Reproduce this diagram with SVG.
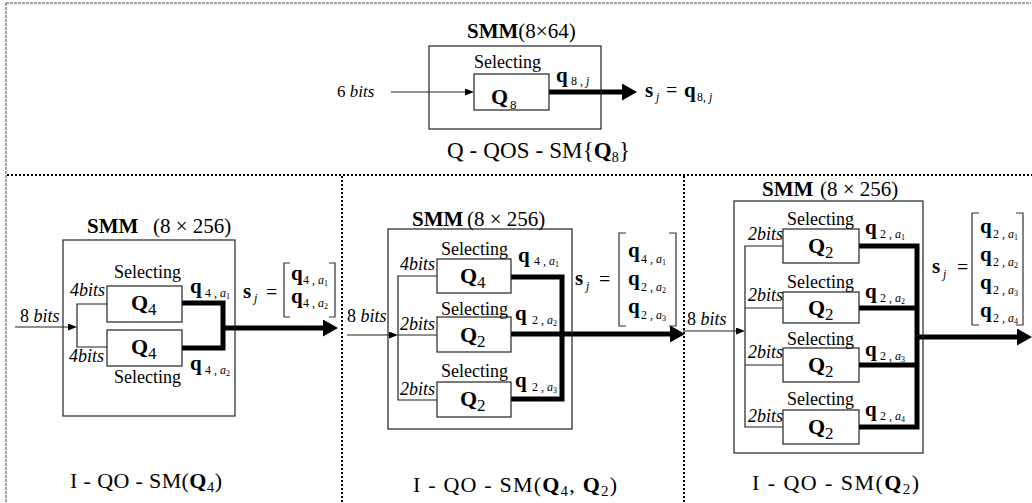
<svg xmlns="http://www.w3.org/2000/svg" width="1032" height="503" viewBox="0 0 1032 503">
<style>
text{font-family:'Liberation Serif',serif !important}
.box{fill:#fff;stroke:#222;stroke-width:1.2}
.outer{fill:none;stroke:#222;stroke-width:1.2}
.thin{fill:none;stroke:#222;stroke-width:1.2}
.thick{fill:none;stroke:#000;stroke-width:5;stroke-linejoin:miter}
.dot{fill:none;stroke:#000;stroke-width:2;stroke-dasharray:2 2}
.frame{fill:none;stroke:#444;stroke-width:1;stroke-dasharray:3 1}
.br{fill:none;stroke:#333;stroke-width:1.2}
</style>
<defs>
<marker id="big" viewBox="0 0 15 17" refX="0" refY="8.5" markerWidth="15" markerHeight="17" markerUnits="userSpaceOnUse" orient="auto"><path d="M0,0 L15,8.5 L0,17 z" fill="#000"/></marker>
<marker id="small" viewBox="0 0 9 7" refX="0" refY="3.5" markerWidth="9" markerHeight="7" markerUnits="userSpaceOnUse" orient="auto"><path d="M0,0 L9,3.5 L0,7 z" fill="#000"/></marker>
</defs>
<rect width="1032" height="503" fill="#fff"/>

<g id="frame">
<path class="frame" d="M6,3 H1031 M6,3 V503"/>
<path class="dot" d="M7,175 H1032 M342,176 V503 M684,176 V503"/>
</g>

<g id="connectors">
<path class="thin" d="M391,92 H465" marker-end="url(#small)"/>
<path class="thick" d="M549,92 H622" marker-end="url(#big)"/>
<path class="thin" d="M15,327 H68" marker-end="url(#small)"/>
<path class="thin" d="M107,304 H77 V347 H107"/>
<path class="thick" d="M182,303 H223 V348 H182"/>
<path class="thick" d="M223,328 H323" marker-end="url(#big)"/>
<path class="thin" d="M347,335 H389" marker-end="url(#small)"/>
<path class="thin" d="M437,276 H398 V400 H437 M398,335 H437"/>
<path class="thick" d="M511,277 H562 V399 H511"/>
<path class="thick" d="M511,334 H670" marker-end="url(#big)"/>
<path class="thin" d="M683,331 H736" marker-end="url(#small)"/>
<path class="thin" d="M783,246 H745 V427 H783 M745,308 H783 M745,365 H783"/>
<path class="thick" d="M859,246 H917 V427 H859 M859,308 H917 M859,365 H917"/>
<path class="thick" d="M917,337 H1017" marker-end="url(#big)"/>
</g>

<g id="smm-top">
<rect class="outer" x="429" y="46" width="172" height="83"/>
<text style="font-family:'Liberation Serif',serif" font-size="21" x="467" y="38"><tspan font-weight="bold">SMM</tspan>(8×64)</text>
<text style="font-family:'Liberation Serif',serif" font-size="17" x="337" y="97">6 <tspan font-style="italic">bits</tspan></text>
<text style="font-family:'Liberation Serif',serif" font-size="23" x="447" y="158" textLength="183">Q - QOS - SM{<tspan font-weight="bold">Q</tspan><tspan font-size="14" dy="4">8</tspan><tspan dy="-4">}</tspan></text>
</g>
<g id="q8">
<rect class="box" x="474" y="74" width="75" height="36"/>
<text style="font-family:'Liberation Serif',serif" font-size="18" x="474" y="68">Selecting</text>
<text style="font-family:'Liberation Serif',serif" font-size="22" font-weight="bold" x="491" y="104">Q</text>
<text style="font-family:'Liberation Serif',serif" font-size="13" x="510" y="109">8</text>
<text style="font-family:'Liberation Serif',serif" font-size="21" font-weight="bold" x="556" y="82">q</text>
<text style="font-family:'Liberation Serif',serif" font-size="12" x="571" y="85">8 , <tspan font-style="italic">j</tspan></text>
<text style="font-family:'Liberation Serif',serif" font-size="21" font-weight="bold" x="645" y="97">s</text>
<text style="font-family:'Liberation Serif',serif" font-size="12" font-style="italic" x="656" y="101">j</text>
<text style="font-family:'Liberation Serif',serif" font-size="20" x="666" y="97">=</text>
<text style="font-family:'Liberation Serif',serif" font-size="21" font-weight="bold" x="684" y="97">q</text>
<text style="font-family:'Liberation Serif',serif" font-size="12" x="697" y="101">8, <tspan font-style="italic">j</tspan></text>
</g>

<g id="smm-1">
<rect class="outer" x="63" y="240" width="172" height="176"/>
<text style="font-family:'Liberation Serif',serif" font-size="21" font-weight="bold" x="87" y="233">SMM</text>
<text style="font-family:'Liberation Serif',serif" font-size="21" x="153" y="233">(8 × 256)</text>
<text style="font-family:'Liberation Serif',serif" font-size="18" x="20" y="322">8 <tspan font-style="italic">bits</tspan></text>
<text style="font-family:'Liberation Serif',serif" font-size="22" x="70" y="488" textLength="152">I - QO - SM(<tspan font-weight="bold">Q</tspan><tspan font-size="15" dy="4">4</tspan><tspan dy="-4">)</tspan></text>
<text style="font-family:'Liberation Serif',serif" font-size="21" font-weight="bold" x="243" y="298">s</text>
<text style="font-family:'Liberation Serif',serif" font-size="12" font-style="italic" x="254" y="302">j</text>
<text style="font-family:'Liberation Serif',serif" font-size="20" x="266" y="299">=</text>
<path class="br" d="M290,263 H284 V317 H290 M329,263 H335 V317 H329"/>
<text style="font-family:'Liberation Serif',serif" font-size="21" font-weight="bold" x="291" y="280">q</text>
<text style="font-family:'Liberation Serif',serif" font-size="12" x="303" y="284">4 , <tspan font-style="italic">a</tspan><tspan font-size="8" dy="2">1</tspan></text>
<text style="font-family:'Liberation Serif',serif" font-size="21" font-weight="bold" x="291" y="303">q</text>
<text style="font-family:'Liberation Serif',serif" font-size="12" x="303" y="307">4 , <tspan font-style="italic">a</tspan><tspan font-size="8" dy="2">2</tspan></text>
</g>
<g id="q4-1a">
<rect class="box" x="107" y="286" width="75" height="36"/>
<text style="font-family:'Liberation Serif',serif" font-size="18" x="114" y="278">Selecting</text>
<text style="font-family:'Liberation Serif',serif" font-size="18" font-style="italic" x="70" y="296">4bits</text>
<text style="font-family:'Liberation Serif',serif" font-size="22" font-weight="bold" x="131" y="310">Q</text>
<text style="font-family:'Liberation Serif',serif" font-size="17" x="148" y="315">4</text>
<text style="font-family:'Liberation Serif',serif" font-size="21" font-weight="bold" x="190" y="293">q</text>
<text style="font-family:'Liberation Serif',serif" font-size="12" x="205" y="297">4 , <tspan font-style="italic">a</tspan><tspan font-size="8" dy="2">1</tspan></text>
</g>
<g id="q4-1b">
<rect class="box" x="107" y="330" width="75" height="36"/>
<text style="font-family:'Liberation Serif',serif" font-size="18" x="114" y="383">Selecting</text>
<text style="font-family:'Liberation Serif',serif" font-size="18" font-style="italic" x="69" y="362">4bits</text>
<text style="font-family:'Liberation Serif',serif" font-size="22" font-weight="bold" x="131" y="354">Q</text>
<text style="font-family:'Liberation Serif',serif" font-size="17" x="148" y="359">4</text>
<text style="font-family:'Liberation Serif',serif" font-size="21" font-weight="bold" x="190" y="370">q</text>
<text style="font-family:'Liberation Serif',serif" font-size="12" x="205" y="374">4 , <tspan font-style="italic">a</tspan><tspan font-size="8" dy="2">2</tspan></text>
</g>

<g id="smm-2">
<rect class="outer" x="388" y="229" width="184" height="200"/>
<text style="font-family:'Liberation Serif',serif" font-size="21" font-weight="bold" x="412" y="226">SMM</text>
<text style="font-family:'Liberation Serif',serif" font-size="21" x="467" y="226">(8 × 256)</text>
<text style="font-family:'Liberation Serif',serif" font-size="18" x="347" y="322">8 <tspan font-style="italic">bits</tspan></text>
<text style="font-family:'Liberation Serif',serif" font-size="22" x="413" y="492" textLength="204">I - QO - SM(<tspan font-weight="bold">Q</tspan><tspan font-size="15" dy="4">4</tspan><tspan dy="-4">, </tspan><tspan font-weight="bold">Q</tspan><tspan font-size="15" dy="4">2</tspan><tspan dy="-4">)</tspan></text>
<text style="font-family:'Liberation Serif',serif" font-size="21" font-weight="bold" x="575" y="285">s</text>
<text style="font-family:'Liberation Serif',serif" font-size="12" font-style="italic" x="586" y="290">j</text>
<text style="font-family:'Liberation Serif',serif" font-size="20" x="599" y="286">=</text>
<path class="br" d="M626,233 H619 V326 H626 M669,233 H676 V326 H669"/>
<text style="font-family:'Liberation Serif',serif" font-size="21" font-weight="bold" x="628" y="257">q</text>
<text style="font-family:'Liberation Serif',serif" font-size="12" x="641" y="263">4 , <tspan font-style="italic">a</tspan><tspan font-size="8" dy="2">1</tspan></text>
<text style="font-family:'Liberation Serif',serif" font-size="21" font-weight="bold" x="628" y="285">q</text>
<text style="font-family:'Liberation Serif',serif" font-size="12" x="641" y="291">2 , <tspan font-style="italic">a</tspan><tspan font-size="8" dy="2">2</tspan></text>
<text style="font-family:'Liberation Serif',serif" font-size="21" font-weight="bold" x="628" y="313">q</text>
<text style="font-family:'Liberation Serif',serif" font-size="12" x="641" y="319">2 , <tspan font-style="italic">a</tspan><tspan font-size="8" dy="2">3</tspan></text>
</g>
<g id="q4-2">
<rect class="box" x="437" y="259" width="74" height="34"/>
<text style="font-family:'Liberation Serif',serif" font-size="18" x="441" y="255">Selecting</text>
<text style="font-family:'Liberation Serif',serif" font-size="18" font-style="italic" x="400" y="270">4bits</text>
<text style="font-family:'Liberation Serif',serif" font-size="22" font-weight="bold" x="460" y="283">Q</text>
<text style="font-family:'Liberation Serif',serif" font-size="17" x="477" y="288">4</text>
<text style="font-family:'Liberation Serif',serif" font-size="21" font-weight="bold" x="518" y="262">q</text>
<text style="font-family:'Liberation Serif',serif" font-size="12" x="534" y="265">4 , <tspan font-style="italic">a</tspan><tspan font-size="8" dy="2">1</tspan></text>
</g>
<g id="q2-2a">
<rect class="box" x="437" y="317" width="74" height="35"/>
<text style="font-family:'Liberation Serif',serif" font-size="18" x="441" y="315">Selecting</text>
<text style="font-family:'Liberation Serif',serif" font-size="18" font-style="italic" x="400" y="330">2bits</text>
<text style="font-family:'Liberation Serif',serif" font-size="22" font-weight="bold" x="460" y="342">Q</text>
<text style="font-family:'Liberation Serif',serif" font-size="17" x="477" y="347">2</text>
<text style="font-family:'Liberation Serif',serif" font-size="21" font-weight="bold" x="515" y="320">q</text>
<text style="font-family:'Liberation Serif',serif" font-size="12" x="532" y="324">2 , <tspan font-style="italic">a</tspan><tspan font-size="8" dy="2">2</tspan></text>
</g>
<g id="q2-2b">
<rect class="box" x="437" y="382" width="74" height="35"/>
<text style="font-family:'Liberation Serif',serif" font-size="18" x="441" y="377">Selecting</text>
<text style="font-family:'Liberation Serif',serif" font-size="18" font-style="italic" x="400" y="395">2bits</text>
<text style="font-family:'Liberation Serif',serif" font-size="22" font-weight="bold" x="460" y="406">Q</text>
<text style="font-family:'Liberation Serif',serif" font-size="17" x="477" y="411">2</text>
<text style="font-family:'Liberation Serif',serif" font-size="21" font-weight="bold" x="515" y="387">q</text>
<text style="font-family:'Liberation Serif',serif" font-size="12" x="532" y="391">2 , <tspan font-style="italic">a</tspan><tspan font-size="8" dy="2">3</tspan></text>
</g>

<g id="smm-3">
<rect class="outer" x="734" y="201" width="189" height="252"/>
<text style="font-family:'Liberation Serif',serif" font-size="21" font-weight="bold" x="762" y="196">SMM</text>
<text style="font-family:'Liberation Serif',serif" font-size="21" x="820" y="196">(8 × 256)</text>
<text style="font-family:'Liberation Serif',serif" font-size="18" x="687" y="325">8 <tspan font-style="italic">bits</tspan></text>
<text style="font-family:'Liberation Serif',serif" font-size="22" x="752" y="490" textLength="167">I - QO - SM(<tspan font-weight="bold">Q</tspan><tspan font-size="15" dy="4">2</tspan><tspan dy="-4">)</tspan></text>
<text style="font-family:'Liberation Serif',serif" font-size="21" font-weight="bold" x="932" y="273">s</text>
<text style="font-family:'Liberation Serif',serif" font-size="12" font-style="italic" x="943" y="278">j</text>
<text style="font-family:'Liberation Serif',serif" font-size="20" x="957" y="274">=</text>
<path class="br" d="M979,213 H972 V325 H979 M1016,213 H1023 V325 H1016"/>
<text style="font-family:'Liberation Serif',serif" font-size="21" font-weight="bold" x="980" y="233">q</text>
<text style="font-family:'Liberation Serif',serif" font-size="12" x="993" y="238">2 , <tspan font-style="italic">a</tspan><tspan font-size="8" dy="2">1</tspan></text>
<text style="font-family:'Liberation Serif',serif" font-size="21" font-weight="bold" x="980" y="261">q</text>
<text style="font-family:'Liberation Serif',serif" font-size="12" x="993" y="266">2 , <tspan font-style="italic">a</tspan><tspan font-size="8" dy="2">2</tspan></text>
<text style="font-family:'Liberation Serif',serif" font-size="21" font-weight="bold" x="980" y="289">q</text>
<text style="font-family:'Liberation Serif',serif" font-size="12" x="993" y="294">2 , <tspan font-style="italic">a</tspan><tspan font-size="8" dy="2">3</tspan></text>
<text style="font-family:'Liberation Serif',serif" font-size="21" font-weight="bold" x="980" y="317">q</text>
<text style="font-family:'Liberation Serif',serif" font-size="12" x="993" y="322">2 , <tspan font-style="italic">a</tspan><tspan font-size="8" dy="2">4</tspan></text>
</g>
<g id="q2-3a">
<rect class="box" x="783" y="229" width="76" height="34"/>
<text style="font-family:'Liberation Serif',serif" font-size="18" x="787" y="225">Selecting</text>
<text style="font-family:'Liberation Serif',serif" font-size="18" font-style="italic" x="748" y="240">2bits</text>
<text style="font-family:'Liberation Serif',serif" font-size="22" font-weight="bold" x="808" y="253">Q</text>
<text style="font-family:'Liberation Serif',serif" font-size="17" x="825" y="258">2</text>
<text style="font-family:'Liberation Serif',serif" font-size="21" font-weight="bold" x="865" y="234">q</text>
<text style="font-family:'Liberation Serif',serif" font-size="12" x="880" y="238">2 , <tspan font-style="italic">a</tspan><tspan font-size="8" dy="2">1</tspan></text>
</g>
<g id="q2-3b">
<rect class="box" x="783" y="292" width="76" height="31"/>
<text style="font-family:'Liberation Serif',serif" font-size="18" x="787" y="288">Selecting</text>
<text style="font-family:'Liberation Serif',serif" font-size="18" font-style="italic" x="748" y="301">2bits</text>
<text style="font-family:'Liberation Serif',serif" font-size="22" font-weight="bold" x="808" y="315">Q</text>
<text style="font-family:'Liberation Serif',serif" font-size="17" x="825" y="320">2</text>
<text style="font-family:'Liberation Serif',serif" font-size="21" font-weight="bold" x="865" y="298">q</text>
<text style="font-family:'Liberation Serif',serif" font-size="12" x="880" y="302">2 , <tspan font-style="italic">a</tspan><tspan font-size="8" dy="2">2</tspan></text>
</g>
<g id="q2-3c">
<rect class="box" x="783" y="348" width="76" height="34"/>
<text style="font-family:'Liberation Serif',serif" font-size="18" x="787" y="345">Selecting</text>
<text style="font-family:'Liberation Serif',serif" font-size="18" font-style="italic" x="748" y="358">2bits</text>
<text style="font-family:'Liberation Serif',serif" font-size="22" font-weight="bold" x="808" y="372">Q</text>
<text style="font-family:'Liberation Serif',serif" font-size="17" x="825" y="377">2</text>
<text style="font-family:'Liberation Serif',serif" font-size="21" font-weight="bold" x="865" y="356">q</text>
<text style="font-family:'Liberation Serif',serif" font-size="12" x="880" y="360">2 , <tspan font-style="italic">a</tspan><tspan font-size="8" dy="2">3</tspan></text>
</g>
<g id="q2-3d">
<rect class="box" x="783" y="410" width="76" height="34"/>
<text style="font-family:'Liberation Serif',serif" font-size="18" x="787" y="405">Selecting</text>
<text style="font-family:'Liberation Serif',serif" font-size="18" font-style="italic" x="748" y="422">2bits</text>
<text style="font-family:'Liberation Serif',serif" font-size="22" font-weight="bold" x="808" y="434">Q</text>
<text style="font-family:'Liberation Serif',serif" font-size="17" x="825" y="439">2</text>
<text style="font-family:'Liberation Serif',serif" font-size="21" font-weight="bold" x="865" y="416">q</text>
<text style="font-family:'Liberation Serif',serif" font-size="12" x="880" y="420">2 , <tspan font-style="italic">a</tspan><tspan font-size="8" dy="2">4</tspan></text>
</g>
</svg>
